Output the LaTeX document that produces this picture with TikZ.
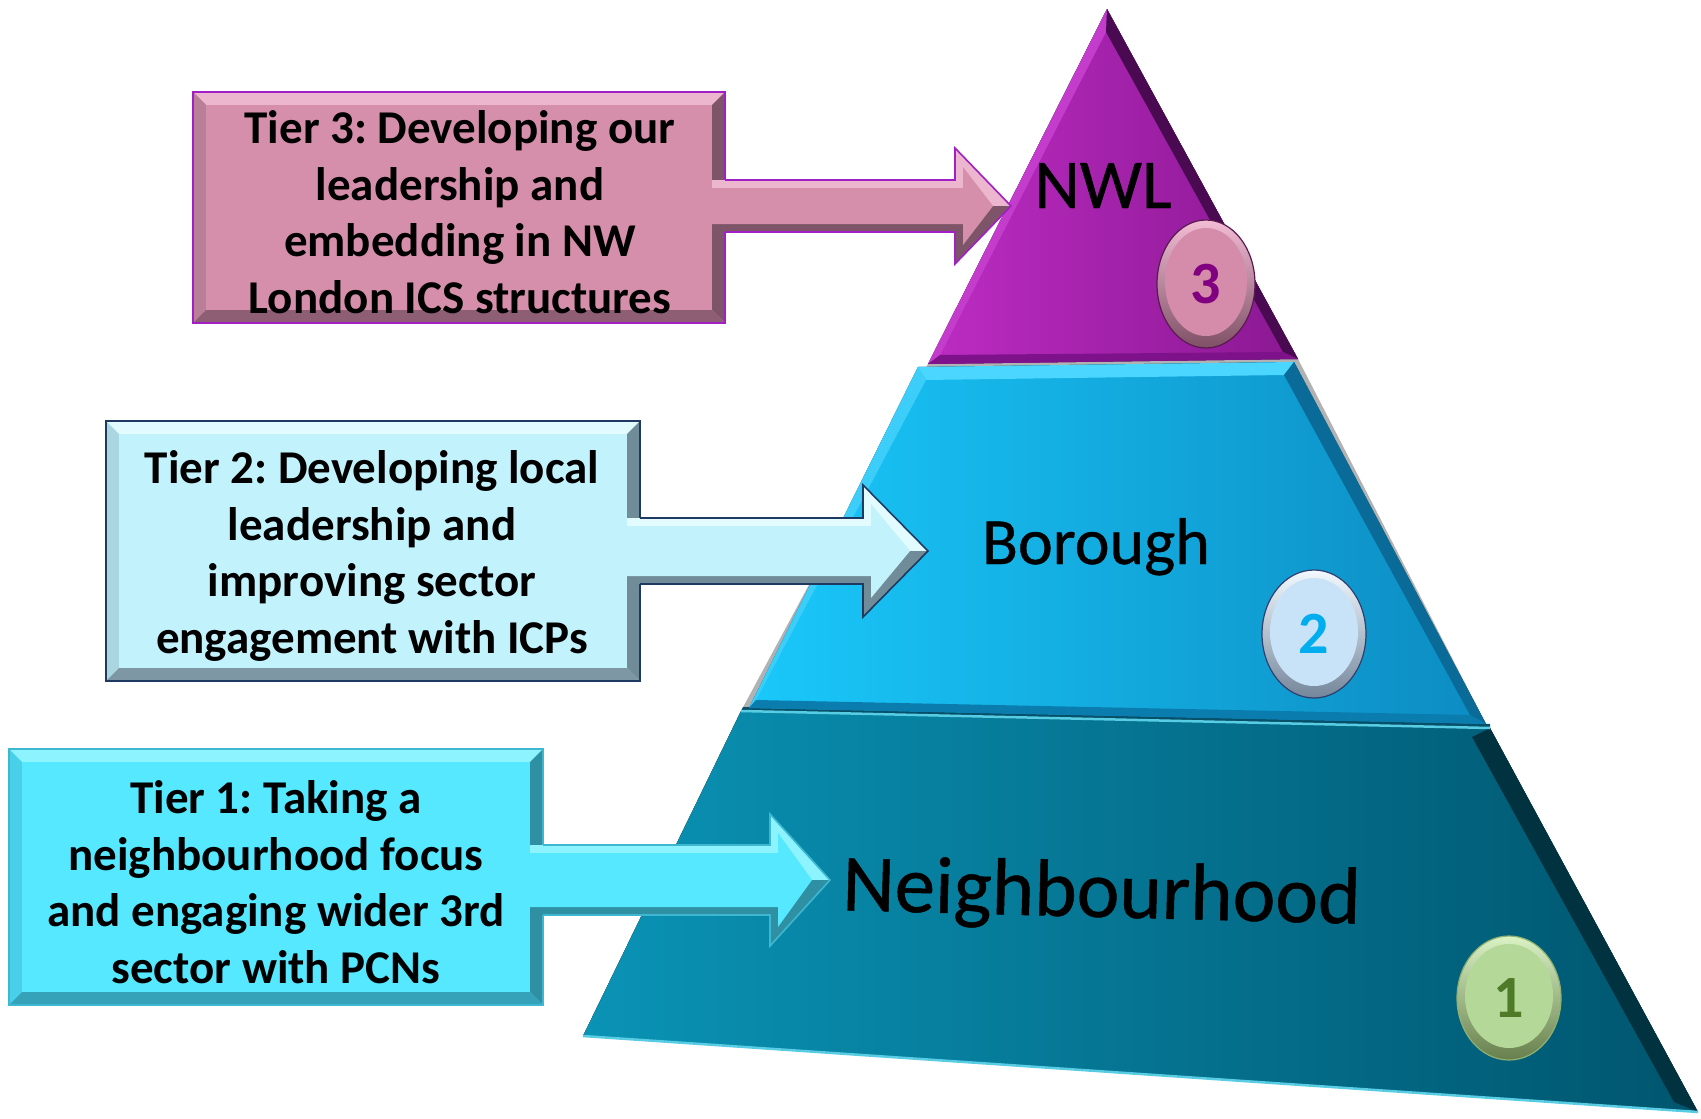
\documentclass[tikz,border=0pt]{standalone}
\usepackage{fontspec}
\setmainfont{Carlito}
\newfontfamily\lblfont{Carlito}[FakeBold=0.6]
\usetikzlibrary{calc,shapes.geometric}
% colours
\definecolor{pL}{HTML}{BC2CC2}\definecolor{pR}{HTML}{8A1892}\definecolor{pEdge}{HTML}{4A0A52}\definecolor{pBot}{HTML}{7E128A}\definecolor{pLeft}{HTML}{C43CCB}
\definecolor{bL}{HTML}{1AC8FA}\definecolor{bR}{HTML}{0C8CC2}\definecolor{bTop}{HTML}{4AD6FF}\definecolor{bLeft}{HTML}{3CCEF8}\definecolor{bEdge}{HTML}{0A6B98}\definecolor{bBot}{HTML}{0A7CAE}
\definecolor{nL}{HTML}{0A93B5}\definecolor{nR}{HTML}{00556E}\definecolor{nEdge}{HTML}{01323F}\definecolor{nLine}{HTML}{58CCE2}\definecolor{nGap}{HTML}{06506A}
% tier 3 box
\definecolor{tAm}{HTML}{D58FAB}\definecolor{tAt}{HTML}{ECB6CE}\definecolor{tAl}{HTML}{B97F98}\definecolor{tAr}{HTML}{7E5568}\definecolor{tAb}{HTML}{8E5F74}\definecolor{tAk}{HTML}{A21FC5}
% tier 2 box
\definecolor{tBm}{HTML}{C2F2FC}\definecolor{tBt}{HTML}{E2FBFF}\definecolor{tBl}{HTML}{A9D6E0}\definecolor{tBr}{HTML}{6F8C98}\definecolor{tBb}{HTML}{7D98A4}\definecolor{tBk}{HTML}{1F3A60}
% tier 1 box
\definecolor{tCm}{HTML}{55E8FF}\definecolor{tCt}{HTML}{8CF3FF}\definecolor{tCl}{HTML}{47D0E8}\definecolor{tCr}{HTML}{2F8FA3}\definecolor{tCb}{HTML}{35A2BA}\definecolor{tCk}{HTML}{3DB8D0}
% circles
\definecolor{cAm}{HTML}{D48CAA}\definecolor{cAl}{HTML}{F2BCD4}\definecolor{cAd}{HTML}{7E5066}\definecolor{cAk}{HTML}{5A1A50}\definecolor{cAt}{HTML}{800080}
\definecolor{cBm}{HTML}{C8E2F8}\definecolor{cBl}{HTML}{F2F9FF}\definecolor{cBd}{HTML}{74869A}\definecolor{cBk}{HTML}{2F3F6F}\definecolor{cBt}{HTML}{00AEEF}
\definecolor{cCm}{HTML}{B3D897}\definecolor{cCl}{HTML}{DAF2C4}\definecolor{cCd}{HTML}{667F4C}\definecolor{cCk}{HTML}{8FB070}\definecolor{cCt}{HTML}{4F7A28}

\newcommand\bevbox[6]{% node, top, left, right, bottom, border
 \fill[#2] (#1.north west) -- (#1.north east) -- ($(#1.north east)+(-13,13)$) -- ($(#1.north west)+(13,13)$) -- cycle;
 \fill[#3] (#1.north west) -- ($(#1.north west)+(13,13)$) -- ($(#1.south west)+(13,-13)$) -- (#1.south west) -- cycle;
 \fill[#4] (#1.north east) -- (#1.south east) -- ($(#1.south east)+(-13,-13)$) -- ($(#1.north east)+(-13,13)$) -- cycle;
 \fill[#5] (#1.south west) -- (#1.south east) -- ($(#1.south east)+(-13,-13)$) -- ($(#1.south west)+(13,-13)$) -- cycle;
 \draw[#6, line width=2] (#1.north west) rectangle (#1.south east);
}
% block arrow: #1 box, #2 tip, #3 half shaft, #4 half head, #5 head length, #6 main, #7 light, #8 dark, #9 border
\newcommand\blockarrow[9]{%
 \coordinate (#1s) at ($(#1.east |- #2)+(-13,0)$);
 \coordinate (#1h) at ($(#2)+(-#5,0)$);
 \fill[#7] ($(#1s)+(0,-#3)$) -- ($(#1h)+(0,-#3)$) -- ($(#1h)+(0,-#4)$) -- (#2) -- (#1s) -- cycle;
 \fill[#8] (#1s) -- (#2) -- ($(#1h)+(0,#4)$) -- ($(#1h)+(0,#3)$) -- ($(#1s)+(0,#3)$) -- cycle;
 \fill[#6] ($(#1s)+(0,-#3+8)$) -- ($(#1h)+(8,-#3+8)$) -- ($(#1h)+(8,-#4+19)$) -- ($(#2)+(-18,0)$) -- ($(#1h)+(8,#4-19)$) -- ($(#1h)+(8,#3-8)$) -- ($(#1s)+(0,#3-8)$) -- cycle;
 \draw[#9, line width=1.6] ($(#1s)+(13,-#3)$) -- ($(#1h)+(0,-#3)$) -- ($(#1h)+(0,-#4)$) -- (#2) -- ($(#1h)+(0,#4)$) -- ($(#1h)+(0,#3)$) -- ($(#1s)+(13,#3)$);
}
\tikzset{
 tierbox/.style={rectangle, inner sep=0},
 boxtext/.style={align=center, inner sep=0, font=\fontsize{47}{56.5}\selectfont\bfseries},
 numc/.style={ellipse, inner sep=0, line width=1.2},
 numtext/.style={inner sep=0, font=\fontsize{60}{60}\selectfont\bfseries},
 tierlabel/.style={inner sep=0, anchor=base, text=black}
}
\frenchspacing
\begin{document}
\begin{tikzpicture}[x=1pt,y=-1pt]
\useasboundingbox (0,0) rectangle (1701,1119);
\fill[white] (0,0) rectangle (1701,1119);

% ---- pyramid coordinates
\coordinate (pA) at (1107,9);   \coordinate (pBL) at (928,364); \coordinate (pBR) at (1298,359);
\coordinate (bTL) at (918,367); \coordinate (bTR) at (1294,362); \coordinate (bBR) at (1486,724); \coordinate (bBL) at (749,708);
\coordinate (nTL) at (741,711); \coordinate (nTR) at (1490,728); \coordinate (nBR) at (1698,1112); \coordinate (nBL) at (583,1036);

% soft shadow
\foreach \d/\o in {16/0.05,11/0.07,7/0.09,4/0.12}{
 \begin{scope}[shift={(\d,\d*0.5)}]
 \fill[black, opacity=\o] (pA) -- (pBR) -- (bBR) -- (nBR) -- (nBL) -- (nTL) -- (pBL) -- cycle;
 \end{scope}
}

% ---- Neighbourhood tier
\fill[nGap] ($(nTL)+(2,-4)$) -- ($(nTR)+(0,-4)$) -- (nTR) -- (nTL) -- cycle;
\fill[left color=nL, right color=nR] (nTL) -- (nTR) -- (nBR) -- (nBL) -- cycle;
\fill[nEdge] (nTR) -- (nBR) -- (1674,1102) -- (1472,737) -- cycle;
\draw[nLine, line width=2.5] (nTL) -- (nTR);
\draw[nLine, line width=2.5] (nBL) -- (nBR);

% ---- Borough tier
\fill[left color=bL, right color=bR] (bTL) -- (bTR) -- (bBR) -- (bBL) -- cycle;
\fill[bTop] (bTL) -- (bTR) -- (1284,375) -- (926,380) -- cycle;
\fill[bLeft] (bTL) -- (bBL) -- (756,700) -- (926,380) -- cycle;
\fill[bEdge] (bTR) -- (bBR) -- (1470,715) -- (1284,375) -- cycle;
\fill[bBot] (bBL) -- (bBR) -- (1470,715) -- (756,700) -- cycle;

% ---- NWL tier
\fill[left color=pL, right color=pR] (pA) -- (pBR) -- (pBL) -- cycle;
\fill[pLeft] (pA) -- (pBL) -- (940,355) -- (1106,32) -- cycle;
\fill[pEdge] (pA) -- (pBR) -- (1283,352) -- (1106,32) -- cycle;
\fill[pBot] (pBL) -- (pBR) -- (1283,352) -- (940,355) -- cycle;

% ---- tier labels
\node[tierlabel, font=\fontsize{70}{70}\lblfont] (lnwl) at (1103,208) {NWL};
\node[tierlabel, font=\fontsize{66}{66}\lblfont] (lbor) at (1096,564) {Borough};
\node[tierlabel, font=\fontsize{81}{81}\lblfont, rotate=-1.5] (lnei) at (1101,917) {Neighbourhood};

% ---- number badges
\node[numc, minimum width=98, minimum height=128, draw=cAk, top color=cAl, bottom color=cAd] (c3) at (1206,284) {};
\fill[cAm] ($(c3.center)+(0,-2)$) ellipse [x radius=41pt, y radius=54pt];
\node[numtext, text=cAt] (n3) at (c3.center) {3};
\node[numc, minimum width=104, minimum height=128, draw=cBk, top color=cBl, bottom color=cBd] (c2) at (1314,634) {};
\fill[cBm] ($(c2.center)+(0,-2)$) ellipse [x radius=44pt, y radius=54pt];
\node[numtext, text=cBt] (n2) at (c2.center) {2};
\node[numc, minimum width=104, minimum height=124, draw=cCk, top color=cCl, bottom color=cCd] (c1) at (1509,998) {};
\fill[cCm] ($(c1.center)+(0,-2)$) ellipse [x radius=44pt, y radius=52pt];
\node[numtext, text=cCt] (n1) at (c1.center) {1};

% ---- text boxes
\node[tierbox, fill=tAm, minimum width=532, minimum height=231] (b3) at (459,207.5) {};
\bevbox{b3}{tAt}{tAl}{tAr}{tAb}{tAk}
\node[tierbox, fill=tBm, minimum width=534, minimum height=260] (b2) at (373,551) {};
\bevbox{b2}{tBt}{tBl}{tBr}{tBb}{tBk}
\node[tierbox, fill=tCm, minimum width=534, minimum height=256] (b1) at (276,877) {};
\bevbox{b1}{tCt}{tCl}{tCr}{tCb}{tCk}

% ---- arrows
\coordinate (tip3) at (1011,206);
\coordinate (tip2) at (928,551);
\coordinate (tip1) at (830,880);
\blockarrow{b3}{tip3}{26}{58}{56}{tAm}{tAt}{tAr}{tAk}
\blockarrow{b2}{tip2}{33}{66}{65}{tBm}{tBt}{tBr}{tBk}
\blockarrow{b1}{tip1}{35}{66}{60}{tCm}{tCt}{tCr}{tCk}

% ---- box texts
\node[boxtext] (t3) at (460,212) {Tier 3: Developing our\\leadership and\\embedding in NW\\London ICS structures};
\node[boxtext] (t2) at (372,556) {Tier 2: Developing local\\leadership and\\improving sector\\engagement with ICPs};
\node[boxtext] (t1) at (276,882) {Tier 1: Taking a\\neighbourhood focus\\and engaging wider 3rd\\sector with PCNs};
\end{tikzpicture}
\end{document}
